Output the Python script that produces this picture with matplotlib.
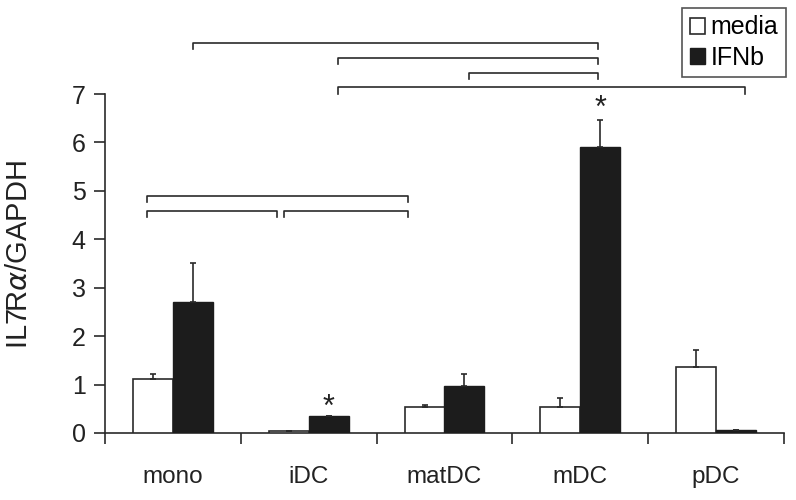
import matplotlib.pyplot as plt
import numpy as np

plt.rcParams['font.family'] = ['Liberation Sans', 'DejaVu Sans']

categories = ['mono', 'iDC', 'matDC', 'mDC', 'pDC']
media = [1.12, 0.04, 0.53, 0.53, 1.36]
media_err = [0.09, 0.0, 0.05, 0.19, 0.36]
ifnb = [2.71, 0.35, 0.97, 5.90, 0.06]
ifnb_err = [0.81, 0.0, 0.25, 0.56, 0.0]

# significance brackets: (x start, x end, height) in data units
brackets = [(0.147, 3.13, 8.05), (1.213, 3.13, 7.74), (2.18, 3.13, 7.43),
            (1.213, 4.21, 7.14), (-0.19, 1.73, 4.89), (-0.19, 0.765, 4.58),
            (0.82, 1.73, 4.58)]
stars = [(1.147, 0.52), (3.147, 6.7)]

LINE = '#2a2a2a'
DARK = '#1c1c1c'
TEXT = '#222222'

fig = plt.figure(figsize=(7.96, 5.0), dpi=100)
ax = fig.add_axes([105 / 796, 67 / 500, 679 / 796, 339 / 500])

x = np.arange(len(categories))
w = 0.294
ax.bar(x - w / 2, media, w, color='white', edgecolor=LINE, linewidth=1.2,
       yerr=[np.zeros(5), media_err], capsize=2.5,
       error_kw=dict(ecolor=LINE, elinewidth=1.2, capthick=1.2), label='media', zorder=3)
ax.bar(x + w / 2, ifnb, w, color=DARK, edgecolor=DARK, linewidth=1.0,
       yerr=[np.zeros(5), ifnb_err], capsize=2.5,
       error_kw=dict(ecolor=LINE, elinewidth=1.2, capthick=1.2), label='IFNb', zorder=3)

ax.set_xlim(-0.5, 4.5)
ax.set_ylim(0, 7)
ax.set_yticks(range(8))
ax.set_xticks(x)
ax.set_xticklabels(categories, fontsize=17.5)
ax.set_xticks(np.arange(-0.5, 5.0, 1.0), minor=True)
ax.tick_params(axis='x', which='major', length=0, pad=24, colors=TEXT)
ax.tick_params(axis='x', which='minor', length=8, width=1.2, color=LINE, direction='out')
ax.tick_params(axis='y', length=8, width=1.2, color=LINE, labelsize=18, labelcolor=TEXT, pad=6)

for s in ['top', 'right']:
    ax.spines[s].set_visible(False)
for s in ['left', 'bottom']:
    ax.spines[s].set_color(LINE)
    ax.spines[s].set_linewidth(1.2)

ax.set_ylabel('IL7R$\\alpha$/GAPDH', fontsize=21, color=TEXT)
ax.yaxis.set_label_coords(-0.106, 0.525)

tick_h = 0.13
for x0, x1, h in brackets:
    ax.plot([x0, x0, x1, x1], [h - tick_h, h, h, h - tick_h], color=LINE,
            linewidth=1.2, clip_on=False)

for sx, sy in stars:
    ax.text(sx, sy, '*', ha='center', va='center', fontsize=22, color=TEXT)

leg = ax.legend(loc='upper right', bbox_to_anchor=(786 / 796, 1 - 8 / 500),
                bbox_transform=fig.transFigure, fancybox=False, edgecolor=LINE,
                fontsize=18, handlelength=0.6, handleheight=0.6, handletextpad=0.25,
                borderpad=0.3, labelspacing=0.25, borderaxespad=0)
leg.get_frame().set_linewidth(1.2)

fig.savefig('out.png', dpi=100)
